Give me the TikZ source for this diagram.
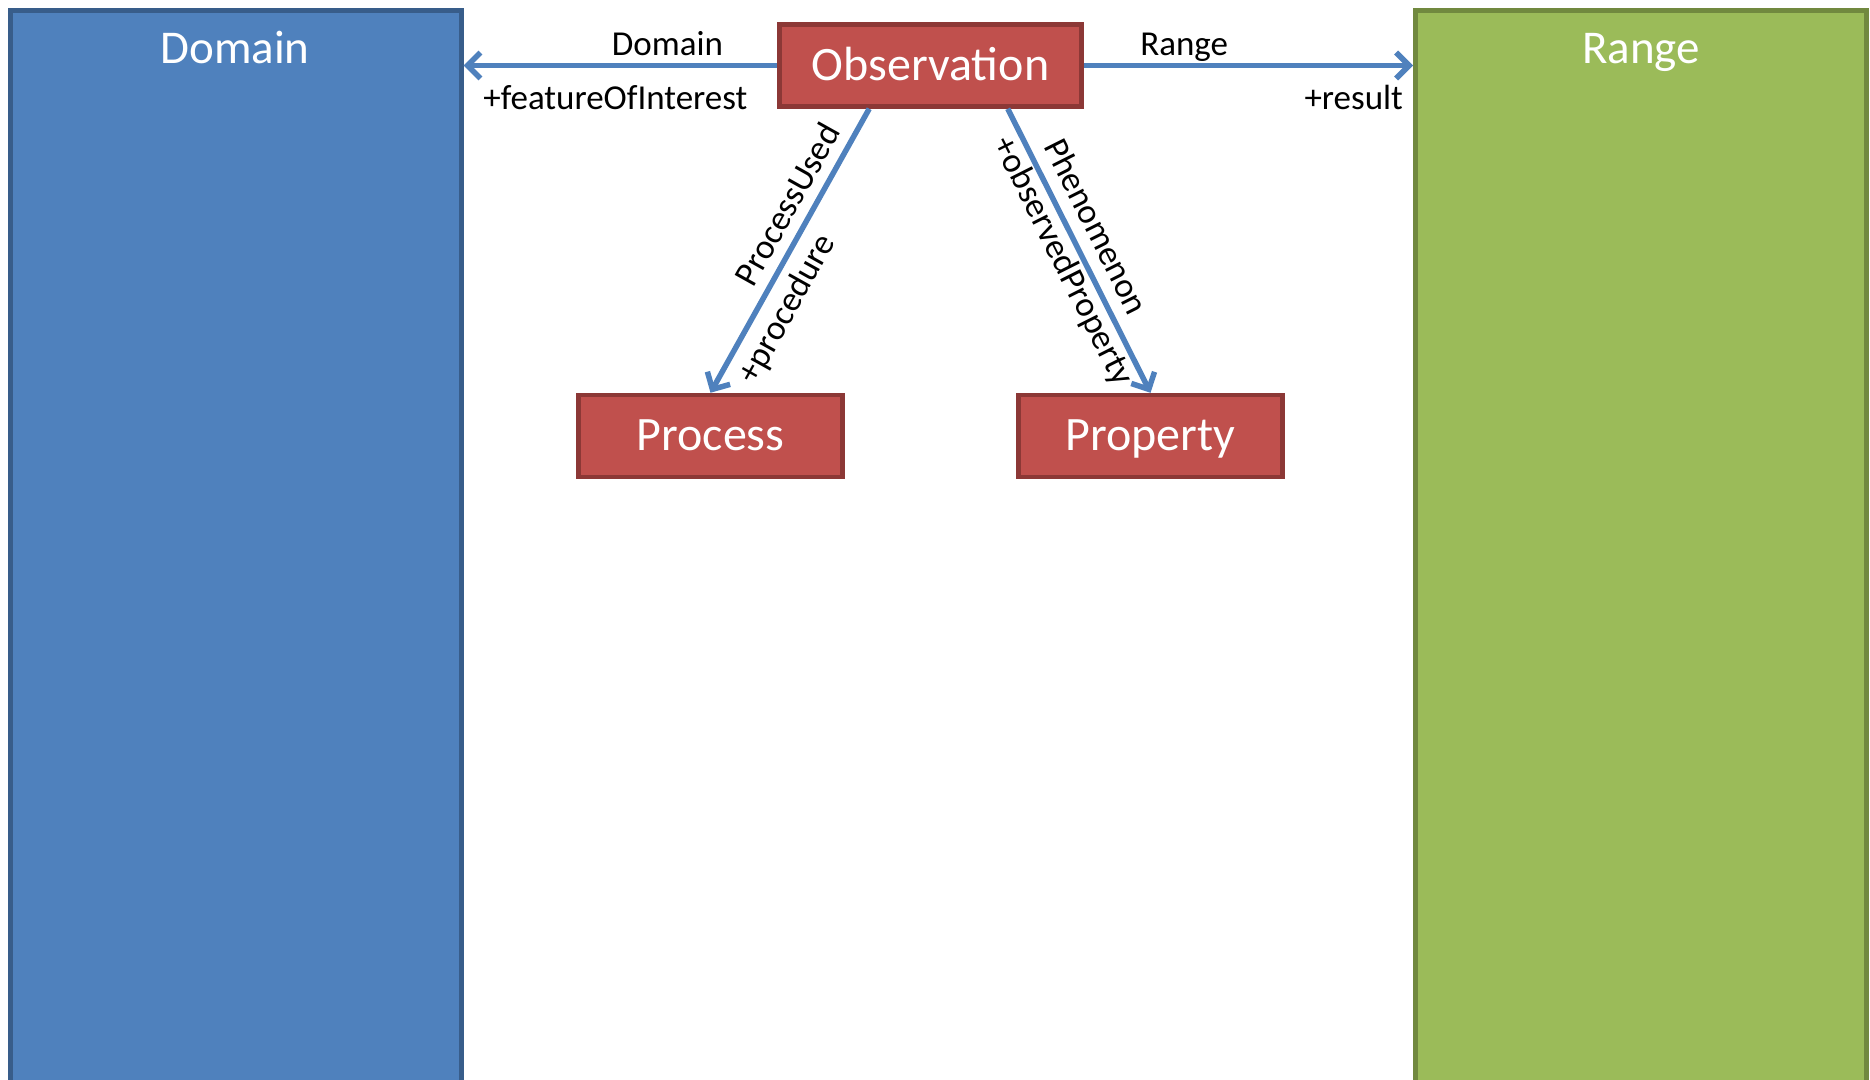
\documentclass[tikz,border=0pt]{standalone}
\usepackage{fontspec}
\setmainfont{Carlito}
\usetikzlibrary{arrows.meta,calc}
\definecolor{blueF}{HTML}{4F81BD}
\definecolor{blueD}{HTML}{385D8A}
\definecolor{redF}{HTML}{C0504D}
\definecolor{redD}{HTML}{8C3836}
\definecolor{greenF}{HTML}{9BBB59}
\definecolor{greenD}{HTML}{71893F}
\begin{document}
\begin{tikzpicture}[x=1pt,y=-1pt,
  region/.style={line width=4.5pt, minimum width=451pt, minimum height=1100pt, anchor=north west, inner sep=0pt},
  classbox/.style={draw=redD, fill=redF, line width=4.5pt, text=white, font=\fontsize{48}{56}\selectfont, inner sep=0pt, minimum height=82pt, text height=36pt, text depth=7pt},
  titletext/.style={text=white, font=\fontsize{47}{56}\selectfont, anchor=base, inner sep=0pt},
  conn/.style={draw=blueF, line width=5.5pt, -{Straight Barb[length=13pt,width=26pt]}},
  lbl/.style={font=\fontsize{35}{42}\selectfont, text=black}
]
\useasboundingbox (0,0) rectangle (1870,1079);
\fill[white] (0,0) rectangle (1870,1079);

\node[region, fill=blueF, draw=blueD] (dom) at (8,8) {};
\node[region, fill=greenF, draw=greenD] (ran) at (1413,8) {};
\node[titletext] (domtitle) at (235,63) {Domain};
\node[titletext] (rantitle) at (1641,63) {Range};

\node[classbox, minimum width=302pt] (obs) at (930.5,65.5) {Observation};
\node[classbox, minimum width=264pt] (proc) at (710.5,436) {Process};
\node[classbox, minimum width=264pt] (prop) at (1150.5,436) {Property};

\coordinate (obsA) at ($(obs.south west)!0.30!(obs.south east)$);
\coordinate (obsB) at ($(obs.south west)!0.752!(obs.south east)$);

\draw[conn] (obs.west) -- (obs.west -| dom.east)
  node[lbl, pos=0.35, anchor=base, yshift=10pt] (l1) {Domain}
  node[lbl, pos=0.516, anchor=base, yshift=-44pt] (l2) {+featureOfInterest};
\draw[conn] (obs.east) -- (obs.east -| ran.west)
  node[lbl, pos=0.305, anchor=base, yshift=10pt] (l3) {Range}
  node[lbl, pos=1, anchor=base east, yshift=-44pt, xshift=-4pt] (l4) {+result};
\draw[conn] (obsA) -- (proc.north)
  node[lbl, pos=0.38, sloped, above=10pt, inner sep=0pt] (l5) {ProcessUsed}
  node[lbl, pos=0.66, sloped, below=9pt, inner sep=0pt] (l6) {+procedure};
\draw[conn] (obsB) -- (prop.north)
  node[lbl, pos=0.456, sloped, above=12pt, inner sep=0pt] (l7) {Phenomenon}
  node[lbl, pos=0.507, sloped, below=2pt, inner sep=0pt] (l8) {+observedProperty};
\end{tikzpicture}
\end{document}
